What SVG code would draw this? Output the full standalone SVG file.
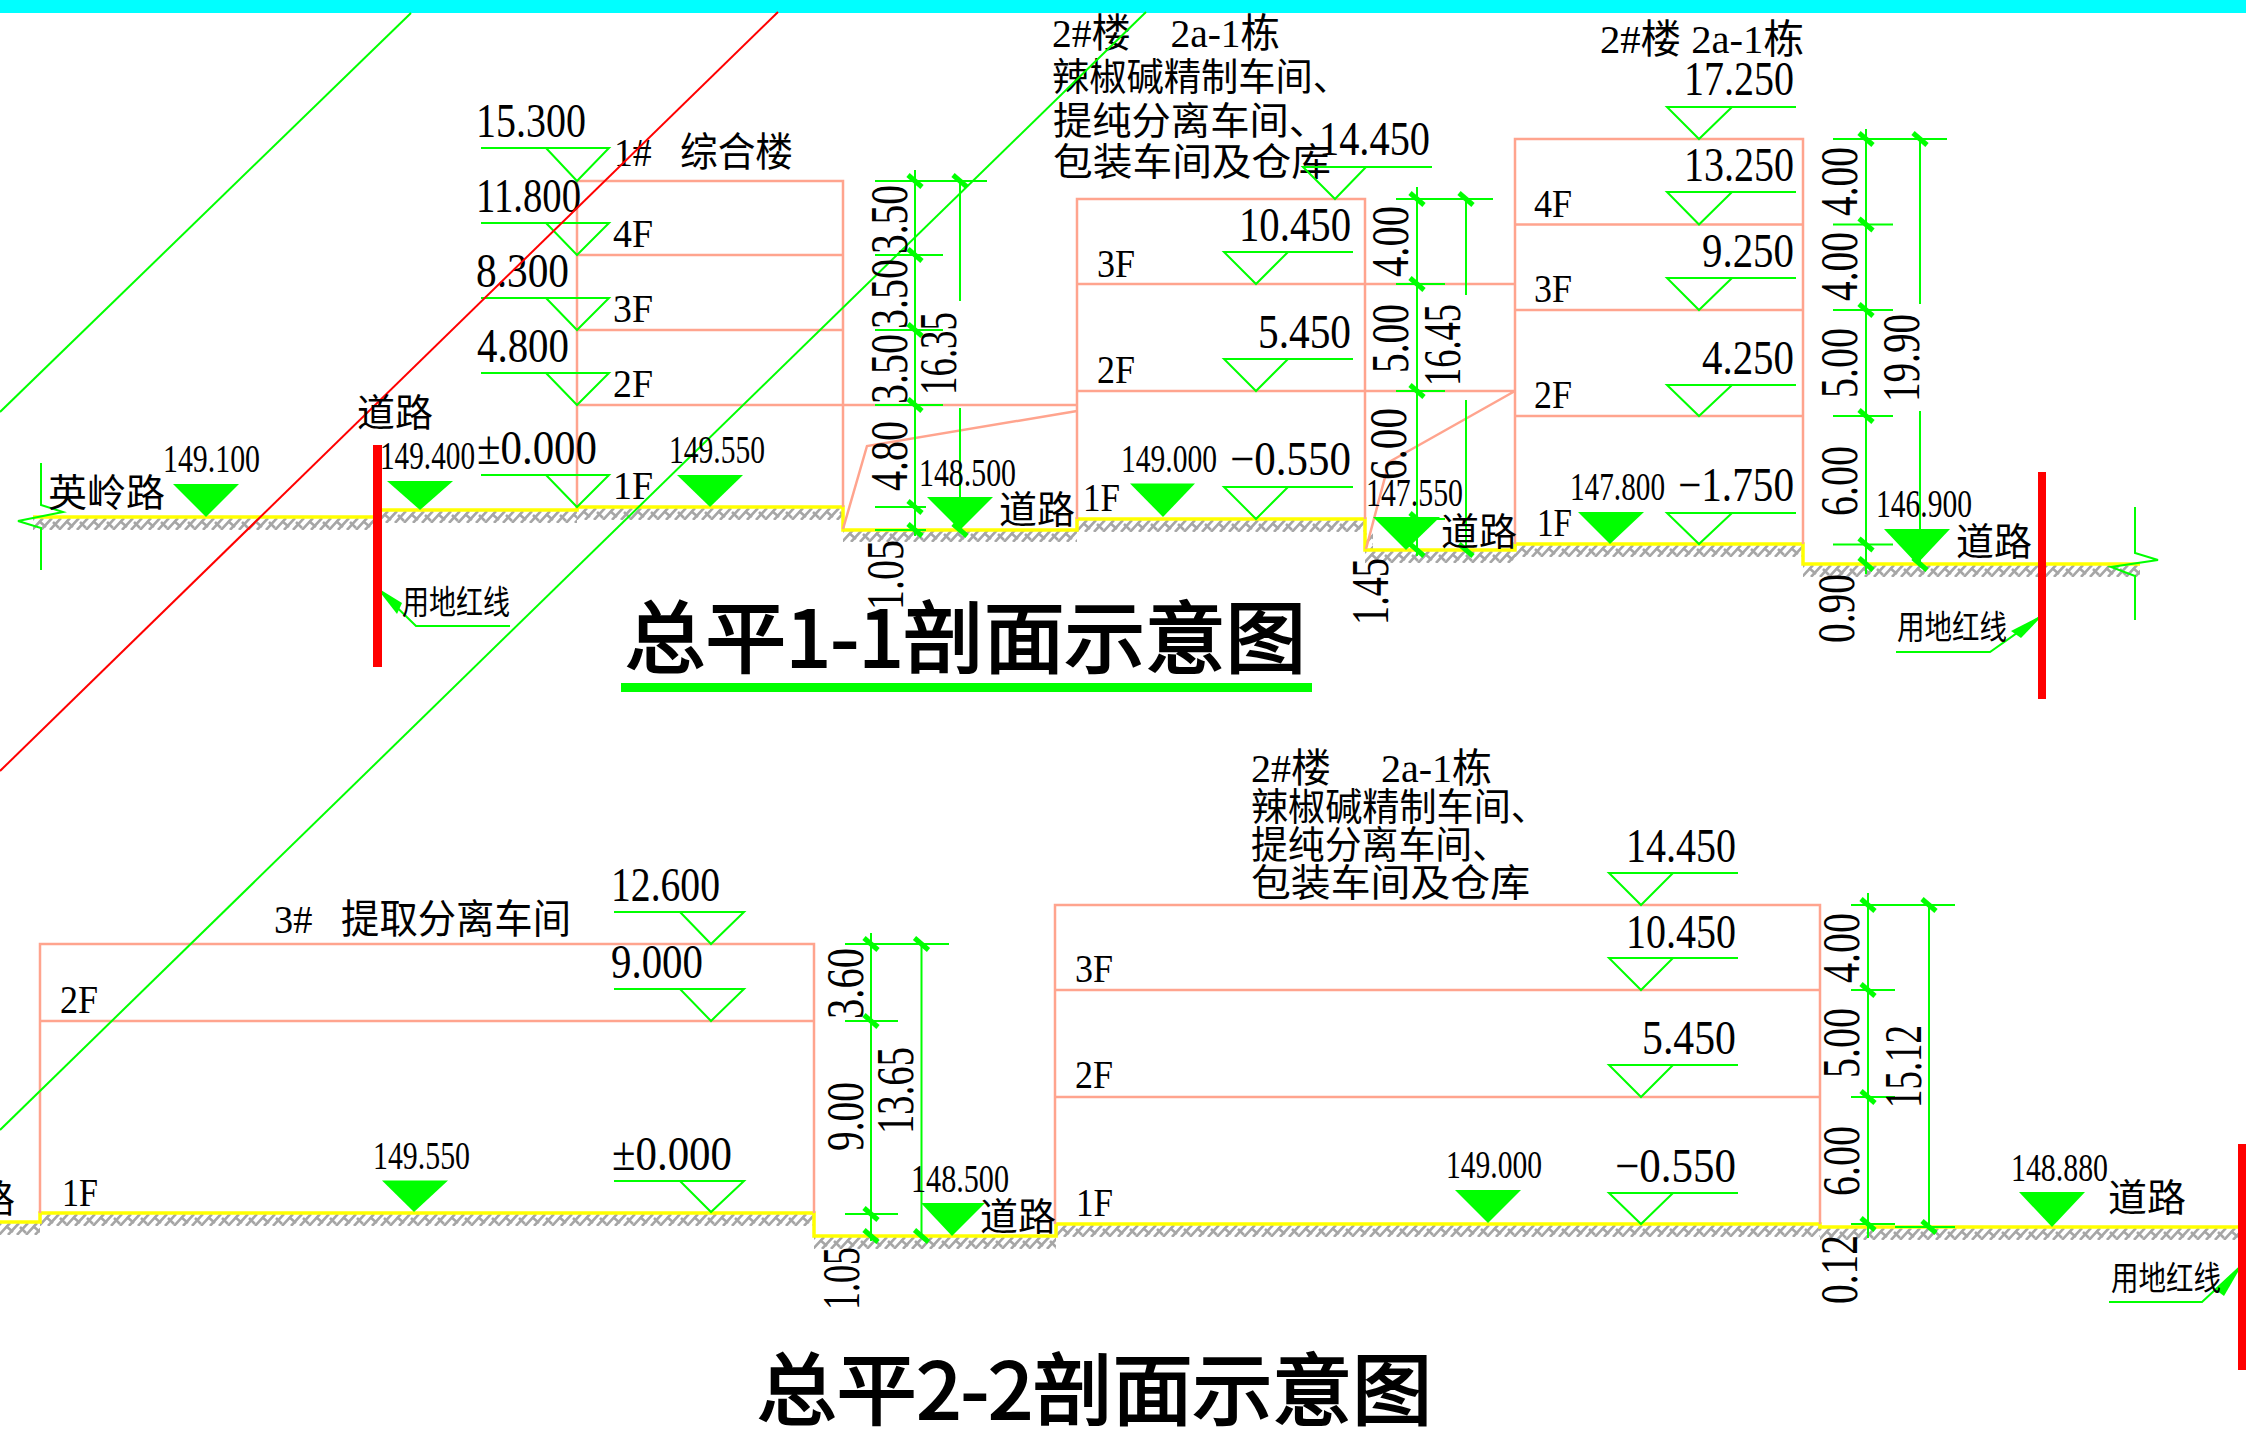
<svg xmlns="http://www.w3.org/2000/svg" xmlns:xlink="http://www.w3.org/1999/xlink" width="2246" height="1435" viewBox="0 0 2246 1435">
<style>
text{font-family:"Liberation Serif","Noto Sans CJK SC",serif;fill:#000}
.n{font-size:48px}
.s{font-size:40px}
.c{font-size:38px;font-family:"Noto Sans CJK SC",sans-serif}
.u{font-size:33px;font-family:"Noto Sans CJK SC",sans-serif}
.d{font-size:52px}
.t{font-size:78px;font-weight:400;stroke:#000;stroke-width:2.2px;font-family:"Noto Sans CJK SC",sans-serif}
.w{fill:none;stroke:#ffa48e;stroke-width:2.5}
.g{fill:none;stroke:#00ff00;stroke-width:2}
.f{fill:#00ff00;stroke:none}
.y{fill:none;stroke:#ffff00;stroke-width:3.5}
.r{fill:#ff0000}
.h{fill:url(#hatch)}
</style>
<defs>
<pattern id="hatch" patternUnits="userSpaceOnUse" width="27" height="12">
<g fill="none" stroke="#a6a6a6" stroke-width="2.6">
<path d="M-1 12 L10 0M8 12 L19 0M17 12 L28 0M26 12L37 0M-10 12L1 0"/>
<path d="M6 3 L13 9M20 4L26 10"/>
</g>
</pattern>
<path id="tick" d="M-7 -6L7 6" stroke="#00ff00" stroke-width="5" fill="none"/>
</defs>
<rect width="2246" height="1435" fill="#ffffff"/>
<rect width="2246" height="13" fill="#00ffff"/>

<g id="ground-1">
<rect class="h" transform="translate(33,518)" width="345" height="12"/>
<rect class="h" transform="translate(378,511)" width="199" height="12"/>
<rect class="h" transform="translate(577,508)" width="266" height="12"/>
<rect class="h" transform="translate(843,530)" width="234" height="12"/>
<rect class="h" transform="translate(1077,520)" width="288" height="12"/>
<rect class="h" transform="translate(1365,551)" width="150" height="12"/>
<rect class="h" transform="translate(1365,533)" width="8" height="18"/>
<rect class="h" transform="translate(1515,545)" width="288" height="12"/>
<rect class="h" transform="translate(1803,565)" width="337" height="12"/>
<path class="y" d="M33 517H378V510H577V507H843V530H1077V519H1365V550H1515V544H1803V564H2140"/>
</g>
<g id="ground-2">
<rect class="h" transform="translate(0,1223)" width="40" height="12"/>
<rect class="h" transform="translate(40,1214)" width="774" height="12"/>
<rect class="h" transform="translate(814,1237)" width="242" height="12"/>
<rect class="h" transform="translate(1056,1225)" width="764" height="12"/>
<rect class="h" transform="translate(1820,1228)" width="420" height="12"/>
<path class="y" d="M0 1222H40V1213H814V1236H1056V1224H1820V1227H2240"/>
</g>

<g id="building-1">
<path class="w" d="M577 507V181H843V507M577 255H843M577 330H843M577 405H1077M843 529L867 446L1077 411"/>
<text class="s" x="614" y="166" textLength="179" lengthAdjust="spacingAndGlyphs">1#&#160;&#160;&#160;综合楼</text>
<text class="s" x="613" y="247" textLength="40" lengthAdjust="spacingAndGlyphs">4F</text>
<text class="s" x="613" y="322" textLength="40" lengthAdjust="spacingAndGlyphs">3F</text>
<text class="s" x="613" y="397" textLength="40" lengthAdjust="spacingAndGlyphs">2F</text>
<text class="s" x="613" y="499" textLength="40" lengthAdjust="spacingAndGlyphs">1F</text>
<text class="n" x="476" y="137" textLength="110" lengthAdjust="spacingAndGlyphs">15.300</text>
<text class="n" x="476" y="212" textLength="105" lengthAdjust="spacingAndGlyphs">11.800</text>
<text class="n" x="476" y="287" textLength="93" lengthAdjust="spacingAndGlyphs">8.300</text>
<text class="n" x="477" y="362" textLength="92" lengthAdjust="spacingAndGlyphs">4.800</text>
<text class="n" x="477" y="464" textLength="120" lengthAdjust="spacingAndGlyphs">±0.000</text>
<path class="g" d="M481 148H609L577 181L546 148M481 223H609L577 255L546 223M481 298H609L577 330L546 298M481 373H609L577 405L546 373M481 475H609L577 507L546 475"/>
</g>

<g id="building-2">
<path class="w" d="M1077 519V199H1365V519M1077 284H1515M1077 391H1515M1366 549L1389 462L1515 391"/>
<text class="s" x="1052" y="47" textLength="228" lengthAdjust="spacingAndGlyphs">2#楼&#160;&#160;&#160;&#160;2a-1栋</text>
<text class="c" x="1052" y="90" textLength="298" lengthAdjust="spacingAndGlyphs">辣椒碱精制车间、</text>
<text class="c" x="1053" y="134" textLength="275" lengthAdjust="spacingAndGlyphs">提纯分离车间、</text>
<text class="c" x="1053" y="175" textLength="278" lengthAdjust="spacingAndGlyphs">包装车间及仓库</text>
<text class="s" x="1097" y="277" textLength="38" lengthAdjust="spacingAndGlyphs">3F</text>
<text class="s" x="1097" y="383" textLength="38" lengthAdjust="spacingAndGlyphs">2F</text>
<text class="s" x="1083" y="511" textLength="37" lengthAdjust="spacingAndGlyphs">1F</text>
<text class="n" x="1319" y="155" textLength="111" lengthAdjust="spacingAndGlyphs">14.450</text>
<text class="n" x="1239" y="241" textLength="112" lengthAdjust="spacingAndGlyphs">10.450</text>
<text class="n" x="1258" y="348" textLength="93" lengthAdjust="spacingAndGlyphs">5.450</text>
<text class="n" x="1230" y="475" textLength="121" lengthAdjust="spacingAndGlyphs">−0.550</text>
<path class="g" d="M1432 167H1303L1335 199L1366 167M1353 252H1224L1256 284L1288 252M1353 359H1224L1256 391L1288 359M1353 487H1224L1256 519L1288 487"/>
</g>

<g id="building-3">
<path class="w" d="M1515 544V139H1803V544M1515 224.500H1803M1515 310H1803M1515 416H1803"/>
<text class="s" x="1600" y="53" textLength="204" lengthAdjust="spacingAndGlyphs">2#楼 2a-1栋</text>
<text class="s" x="1534" y="217" textLength="38" lengthAdjust="spacingAndGlyphs">4F</text>
<text class="s" x="1534" y="302" textLength="38" lengthAdjust="spacingAndGlyphs">3F</text>
<text class="s" x="1534" y="408" textLength="38" lengthAdjust="spacingAndGlyphs">2F</text>
<text class="s" x="1537" y="536" textLength="35" lengthAdjust="spacingAndGlyphs">1F</text>
<text class="n" x="1684" y="95" textLength="110" lengthAdjust="spacingAndGlyphs">17.250</text>
<text class="n" x="1684" y="181" textLength="110" lengthAdjust="spacingAndGlyphs">13.250</text>
<text class="n" x="1702" y="267" textLength="92" lengthAdjust="spacingAndGlyphs">9.250</text>
<text class="n" x="1702" y="374" textLength="92" lengthAdjust="spacingAndGlyphs">4.250</text>
<text class="n" x="1678" y="501" textLength="116" lengthAdjust="spacingAndGlyphs">−1.750</text>
<path class="g" d="M1796 107H1667L1699 139L1732 107M1796 192H1667L1699 224.500L1732 192M1796 278H1667L1699 310L1732 278M1796 385H1667L1699 416L1732 385M1796 513H1667L1699 544L1732 513"/>
</g>

<g id="building-4">
<path class="w" d="M40 1213V944H814V1213M40 1021H814"/>
<text class="s" x="274" y="933" textLength="297" lengthAdjust="spacingAndGlyphs">3#&#160;&#160;&#160;提取分离车间</text>
<text class="s" x="60" y="1013" textLength="38" lengthAdjust="spacingAndGlyphs">2F</text>
<text class="s" x="62" y="1206" textLength="36" lengthAdjust="spacingAndGlyphs">1F</text>
<text class="n" x="611" y="901" textLength="109" lengthAdjust="spacingAndGlyphs">12.600</text>
<text class="n" x="611" y="978" textLength="92" lengthAdjust="spacingAndGlyphs">9.000</text>
<text class="n" x="612" y="1170" textLength="120" lengthAdjust="spacingAndGlyphs">±0.000</text>
<path class="g" d="M614 912H744L711 944L680 912M614 989H744L711 1021L680 989M614 1181H744L711 1212L680 1181"/>
</g>

<g id="building-5">
<path class="w" d="M1055 1224V905H1820V1224M1055 990H1820M1055 1097H1820"/>
<text class="s" x="1251" y="782" textLength="241" lengthAdjust="spacingAndGlyphs">2#楼&#160;&#160;&#160;&#160;&#160;2a-1栋</text>
<text class="c" x="1251" y="820" textLength="297" lengthAdjust="spacingAndGlyphs">辣椒碱精制车间、</text>
<text class="c" x="1251" y="858" textLength="258" lengthAdjust="spacingAndGlyphs">提纯分离车间、</text>
<text class="c" x="1251" y="896" textLength="279" lengthAdjust="spacingAndGlyphs">包装车间及仓库</text>
<text class="s" x="1075" y="982" textLength="38" lengthAdjust="spacingAndGlyphs">3F</text>
<text class="s" x="1075" y="1088" textLength="38" lengthAdjust="spacingAndGlyphs">2F</text>
<text class="s" x="1076" y="1216" textLength="37" lengthAdjust="spacingAndGlyphs">1F</text>
<text class="n" x="1626" y="862" textLength="110" lengthAdjust="spacingAndGlyphs">14.450</text>
<text class="n" x="1626" y="948" textLength="110" lengthAdjust="spacingAndGlyphs">10.450</text>
<text class="n" x="1642" y="1054" textLength="94" lengthAdjust="spacingAndGlyphs">5.450</text>
<text class="n" x="1615" y="1182" textLength="121" lengthAdjust="spacingAndGlyphs">−0.550</text>
<path class="g" d="M1738 873H1609L1641 905L1673 873M1738 958H1609L1641 990L1673 958M1738 1065H1609L1641 1097L1673 1065M1738 1193H1609L1641 1224L1673 1193"/>
</g>

<g id="connectors">
<path class="g" d="M411 13L0 412"/>
<path d="M778 12L0 771" fill="none" stroke="#ff0000" stroke-width="2"/>
<path class="g" d="M1146 12L0 1130"/>
<path class="g" d="M915 170V536M875 181H987M875 255H943M875 330H943M875 405H943M875 507H926M875 530H926M960 181V301M960 408V530"/>
<path class="g" d="M1417 187V556M1396 199H1493M1396 284H1445M1396 391H1445M1396 519H1445M1466 199V295M1466 400V550"/>
<path class="g" d="M1866 129V574M1833 139H1947M1833 224.500H1893M1833 310H1893M1833 416H1893M1833 544.500H1893M1920 139V304M1920 411V564"/>
<path class="g" d="M871 933V1241M845 944H949M845 1021H898M845 1214H898M921.500 944V1236"/>
<path class="g" d="M1868 893V1238M1851 905H1955M1851 990H1895M1851 1097H1895M1851 1224H1895M1929 905V1227M1895 1227H1955"/>
<g>
<use xlink:href="#tick" href="#tick" x="915" y="181"/><use xlink:href="#tick" href="#tick" x="915" y="255"/><use xlink:href="#tick" href="#tick" x="915" y="330"/><use xlink:href="#tick" href="#tick" x="915" y="405"/><use xlink:href="#tick" href="#tick" x="915" y="507"/><use xlink:href="#tick" href="#tick" x="915" y="530"/><use xlink:href="#tick" href="#tick" x="960" y="181"/><use xlink:href="#tick" href="#tick" x="960" y="530"/>
<use xlink:href="#tick" href="#tick" x="1417" y="199"/><use xlink:href="#tick" href="#tick" x="1417" y="284"/><use xlink:href="#tick" href="#tick" x="1417" y="391"/><use xlink:href="#tick" href="#tick" x="1417" y="519"/><use xlink:href="#tick" href="#tick" x="1417" y="550"/><use xlink:href="#tick" href="#tick" x="1466" y="199"/><use xlink:href="#tick" href="#tick" x="1466" y="550"/>
<use xlink:href="#tick" href="#tick" x="1866" y="139"/><use xlink:href="#tick" href="#tick" x="1866" y="224.500"/><use xlink:href="#tick" href="#tick" x="1866" y="310"/><use xlink:href="#tick" href="#tick" x="1866" y="416"/><use xlink:href="#tick" href="#tick" x="1866" y="544.500"/><use xlink:href="#tick" href="#tick" x="1866" y="564"/><use xlink:href="#tick" href="#tick" x="1920" y="139"/><use xlink:href="#tick" href="#tick" x="1920" y="564"/>
<use xlink:href="#tick" href="#tick" x="871" y="944"/><use xlink:href="#tick" href="#tick" x="871" y="1021"/><use xlink:href="#tick" href="#tick" x="871" y="1214"/><use xlink:href="#tick" href="#tick" x="871" y="1236"/><use xlink:href="#tick" href="#tick" x="921.500" y="944"/><use xlink:href="#tick" href="#tick" x="921.500" y="1236"/>
<use xlink:href="#tick" href="#tick" x="1868" y="905"/><use xlink:href="#tick" href="#tick" x="1868" y="990"/><use xlink:href="#tick" href="#tick" x="1868" y="1097"/><use xlink:href="#tick" href="#tick" x="1868" y="1224"/><use xlink:href="#tick" href="#tick" x="1929" y="905"/><use xlink:href="#tick" href="#tick" x="1929" y="1227"/>
</g>
<path class="g" d="M41 463V505L63 512L18 521L41 528V570"/>
<path class="g" d="M2135 507V553L2158 560L2111 567L2135 576V620"/>
<path class="g" d="M376 587L416 626H510"/>
<polygon class="f" points="376,587 402,603 397,614"/>
<path class="g" d="M1896 652H1990L2044 614"/>
<polygon class="f" points="2044,614 2011,631 2021,638"/>
<path class="g" d="M2109 1302H2202L2242 1265"/>
<polygon class="f" points="2242,1265 2216,1290 2224,1296"/>
</g>

<g id="red-lines">
<rect class="r" x="373" y="445" width="9" height="222"/>
<rect class="r" x="2038" y="472" width="8" height="227"/>
<rect class="r" x="2238" y="1144" width="8" height="226"/>
</g>

<g id="level-markers">
<polygon class="f" points="173,484 239,484 206,517"/>
<polygon class="f" points="387,481 453,481 420,510"/>
<polygon class="f" points="677,475 743,475 710,507"/>
<polygon class="f" points="927,497 993,497 960,530"/>
<polygon class="f" points="1130,483.500 1195,483.500 1163,517"/>
<polygon class="f" points="1373,517 1440,517 1406,550"/>
<polygon class="f" points="1578,512 1644,512 1610,544"/>
<polygon class="f" points="1884,529 1950,529 1917,564"/>
<polygon class="f" points="382,1180.500 448,1180.500 414,1212"/>
<polygon class="f" points="921,1203 985,1203 952,1236"/>
<polygon class="f" points="1455,1190 1521,1190 1488,1223"/>
<polygon class="f" points="2019,1192 2085,1192 2052,1227"/>
<text class="s" x="163" y="472" textLength="97" lengthAdjust="spacingAndGlyphs">149.100</text>
<text class="s" x="380" y="469" textLength="95" lengthAdjust="spacingAndGlyphs">149.400</text>
<text class="s" x="669" y="463" textLength="96" lengthAdjust="spacingAndGlyphs">149.550</text>
<text class="s" x="919" y="486" textLength="97" lengthAdjust="spacingAndGlyphs">148.500</text>
<text class="s" x="1121" y="472" textLength="96" lengthAdjust="spacingAndGlyphs">149.000</text>
<text class="s" x="1366" y="506" textLength="97" lengthAdjust="spacingAndGlyphs">147.550</text>
<text class="s" x="1570" y="500" textLength="95" lengthAdjust="spacingAndGlyphs">147.800</text>
<text class="s" x="1876" y="517" textLength="96" lengthAdjust="spacingAndGlyphs">146.900</text>
<text class="s" x="373" y="1169" textLength="97" lengthAdjust="spacingAndGlyphs">149.550</text>
<text class="s" x="911" y="1192" textLength="98" lengthAdjust="spacingAndGlyphs">148.500</text>
<text class="s" x="1446" y="1178" textLength="96" lengthAdjust="spacingAndGlyphs">149.000</text>
<text class="s" x="2011" y="1181" textLength="97" lengthAdjust="spacingAndGlyphs">148.880</text>
</g>

<g id="road-labels">
<text class="c" x="48" y="506" textLength="117" lengthAdjust="spacingAndGlyphs">英岭路</text>
<text class="c" x="357" y="426" textLength="76" lengthAdjust="spacingAndGlyphs">道路</text>
<text class="c" x="999" y="523" textLength="76" lengthAdjust="spacingAndGlyphs">道路</text>
<text class="c" x="1441" y="545" textLength="76" lengthAdjust="spacingAndGlyphs">道路</text>
<text class="c" x="1956" y="555" textLength="76" lengthAdjust="spacingAndGlyphs">道路</text>
<text class="c" x="-61" y="1212" textLength="76" lengthAdjust="spacingAndGlyphs">道路</text>
<text class="c" x="980" y="1230" textLength="76" lengthAdjust="spacingAndGlyphs">道路</text>
<text class="c" x="2108" y="1211" textLength="78" lengthAdjust="spacingAndGlyphs">道路</text>
<text class="u" x="402" y="614" textLength="108" lengthAdjust="spacingAndGlyphs">用地红线</text>
<text class="u" x="1897" y="639" textLength="110" lengthAdjust="spacingAndGlyphs">用地红线</text>
<text class="u" x="2111" y="1290" textLength="110" lengthAdjust="spacingAndGlyphs">用地红线</text>
</g>

<g id="dimension-labels">
<text class="d" transform="translate(907,254) rotate(-90)" textLength="69" lengthAdjust="spacingAndGlyphs">3.50</text>
<text class="d" transform="translate(907,329) rotate(-90)" textLength="70" lengthAdjust="spacingAndGlyphs">3.50</text>
<text class="d" transform="translate(907,404) rotate(-90)" textLength="70" lengthAdjust="spacingAndGlyphs">3.50</text>
<text class="d" transform="translate(907,491) rotate(-90)" textLength="70" lengthAdjust="spacingAndGlyphs">4.80</text>
<text class="d" transform="translate(903,610) rotate(-90)" textLength="70" lengthAdjust="spacingAndGlyphs">1.05</text>
<text class="d" transform="translate(956,395) rotate(-90)" textLength="83" lengthAdjust="spacingAndGlyphs">16.35</text>
<text class="d" transform="translate(1408,277) rotate(-90)" textLength="71" lengthAdjust="spacingAndGlyphs">4.00</text>
<text class="d" transform="translate(1408,373) rotate(-90)" textLength="69" lengthAdjust="spacingAndGlyphs">5.00</text>
<text class="d" transform="translate(1406,480) rotate(-90)" textLength="72" lengthAdjust="spacingAndGlyphs">6.00</text>
<text class="d" transform="translate(1388,625) rotate(-90)" textLength="67" lengthAdjust="spacingAndGlyphs">1.45</text>
<text class="d" transform="translate(1460,386) rotate(-90)" textLength="82" lengthAdjust="spacingAndGlyphs">16.45</text>
<text class="d" transform="translate(1857,216) rotate(-90)" textLength="69" lengthAdjust="spacingAndGlyphs">4.00</text>
<text class="d" transform="translate(1857,301) rotate(-90)" textLength="69" lengthAdjust="spacingAndGlyphs">4.00</text>
<text class="d" transform="translate(1857,398) rotate(-90)" textLength="70" lengthAdjust="spacingAndGlyphs">5.00</text>
<text class="d" transform="translate(1857,516) rotate(-90)" textLength="70" lengthAdjust="spacingAndGlyphs">6.00</text>
<text class="d" transform="translate(1854,643) rotate(-90)" textLength="69" lengthAdjust="spacingAndGlyphs">0.90</text>
<text class="d" transform="translate(1919,402) rotate(-90)" textLength="88" lengthAdjust="spacingAndGlyphs">19.90</text>
<text class="d" transform="translate(863,1019) rotate(-90)" textLength="71" lengthAdjust="spacingAndGlyphs">3.60</text>
<text class="d" transform="translate(863,1151) rotate(-90)" textLength="69" lengthAdjust="spacingAndGlyphs">9.00</text>
<text class="d" transform="translate(859,1310) rotate(-90)" textLength="63" lengthAdjust="spacingAndGlyphs">1.05</text>
<text class="d" transform="translate(913,1134) rotate(-90)" textLength="87" lengthAdjust="spacingAndGlyphs">13.65</text>
<text class="d" transform="translate(1859,983) rotate(-90)" textLength="70" lengthAdjust="spacingAndGlyphs">4.00</text>
<text class="d" transform="translate(1859,1078) rotate(-90)" textLength="70" lengthAdjust="spacingAndGlyphs">5.00</text>
<text class="d" transform="translate(1859,1196) rotate(-90)" textLength="70" lengthAdjust="spacingAndGlyphs">6.00</text>
<text class="d" transform="translate(1857,1304) rotate(-90)" textLength="69" lengthAdjust="spacingAndGlyphs">0.12</text>
<text class="d" transform="translate(1921,1108) rotate(-90)" textLength="83" lengthAdjust="spacingAndGlyphs">15.12</text>
</g>

<g id="titles">
<text class="t" x="625" y="667" textLength="681" lengthAdjust="spacingAndGlyphs">总平1-1剖面示意图</text>
<rect x="621" y="683" width="691" height="9" fill="#00ff00"/>
<text class="t" x="757" y="1419" textLength="675" lengthAdjust="spacingAndGlyphs">总平2-2剖面示意图</text>
</g>
</svg>
